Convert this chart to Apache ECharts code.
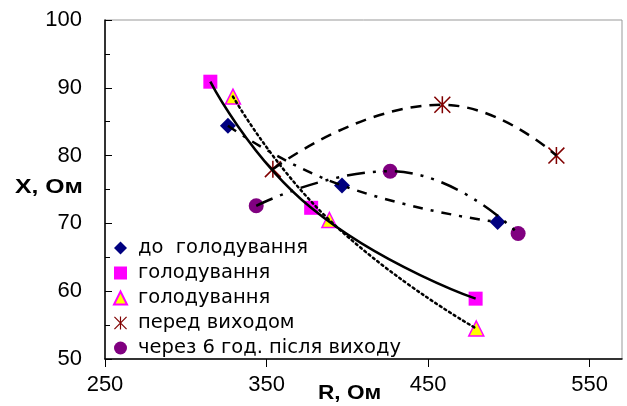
<!DOCTYPE html>
<html><head><meta charset="utf-8">
<script src="https://cdn.jsdelivr.net/npm/echarts@6/dist/echarts.min.js"></script>
<style>html,body{margin:0;padding:0;background:#fff}#c{width:627px;height:406px}</style>
</head><body><div id="c"></div>
<script>
// ---- data ----
const legendLabels = ['до  голодування', 'голодування', 'голодування', 'перед виходом', 'через 6 год. після виходу'];
const xTicks = [250, 350, 450, 550];
const yTicks = [50, 60, 70, 80, 90, 100];

const beforeR = [326.1, 396.7, 493.0];
const beforeX = [84.4, 75.6, 70.2];

const fastR = [315.2, 377.6, 479.4];
const fastX = [90.9, 72.3, 58.9];

const fast2R = [329.2, 388.9, 479.8];
const fast2X = [88.7, 70.5, 54.5];

const preExitR = [353.9, 458.8, 529.4];
const preExitX = [78.0, 87.5, 80.0];

const afterR = [343.6, 426.5, 505.7];
const afterX = [72.6, 77.7, 68.5];

// ---- build ----
const zip = (a, b) => a.map((v, i) => [v, b[i]]);
const keys = ['s0', 's1', 's2', 's3', 's4'];
const labelOf = {}; keys.forEach((k, i) => labelOf[k] = legendLabels[i]);

const star = 'path://M9.1,0H10.9V20H9.1Z M0,1.3L1.3,0L20,18.7L18.7,20Z M18.7,0L20,1.3L1.3,20L0,18.7Z';

const markers = [
  { data: zip(beforeR, beforeX), symbol: 'diamond', size: 16, style: { color: '#000080' } },
  { data: zip(fastR, fastX), symbol: 'rect', size: 14, style: { color: '#FF00FF' } },
  { data: zip(fast2R, fast2X), symbol: 'triangle', size: 15, style: { color: '#FFFF00', borderColor: '#FF00FF', borderWidth: 1.5 } },
  { data: zip(preExitR, preExitX), symbol: star, size: 17, style: { color: '#800000' } },
  { data: zip(afterR, afterX), symbol: 'circle', size: 15, style: { color: '#800080' } }
];
const lineTypes = [
  { type: [10, 8, 3, 8] },
  { type: 'solid' },
  { type: [2, 3.5], cap: 'round' },
  { type: [11, 8] },
  { type: [18, 8, 3, 8, 3, 8] }
];

const series = [];
markers.forEach((m, i) => {
  series.push({
    name: keys[i], type: 'scatter', data: m.data, symbol: m.symbol, symbolSize: m.size,
    itemStyle: Object.assign({ opacity: 1 }, m.style), z: 2, silent: true
  });
});
markers.forEach((m, i) => {
  series.push({
    name: 'line' + i, type: 'line', data: m.data, smooth: true, showSymbol: false, symbol: 'none',
    lineStyle: Object.assign({ color: '#000', width: 2.5 }, lineTypes[i]), z: 3, silent: true
  });
});

const chart = echarts.init(document.getElementById('c'), null, { renderer: 'canvas' });
chart.setOption({
  animation: false,
  backgroundColor: '#fff',
  grid: { left: 105, top: 20, right: 5, bottom: 47, show: true, borderColor: '#999', borderWidth: 1, backgroundColor: 'transparent' },
  xAxis: {
    type: 'value', min: 250, max: 570, interval: 100,
    axisLine: { show: true, onZero: false, lineStyle: { color: '#000', width: 1.5 } },
    axisTick: { show: true, inside: false, length: 8, lineStyle: { color: '#000', width: 1 }, customValues: xTicks },
    axisLabel: { color: '#000', fontFamily: 'Liberation Sans', fontSize: 22, margin: 15, customValues: xTicks },
    splitLine: { show: false }
  },
  yAxis: {
    type: 'value', min: 50, max: 100, interval: 10,
    axisLine: { show: true, onZero: false, lineStyle: { color: '#000', width: 1.5 } },
    axisTick: { show: true, inside: true, length: 7, lineStyle: { color: '#000', width: 1 } },
    minorTick: { show: true, splitNumber: 2, length: 5, lineStyle: { color: '#000', width: 1 } },
    axisLabel: { color: '#000', fontFamily: 'Liberation Sans', fontSize: 22, margin: 23, customValues: yTicks },
    splitLine: { show: false }
  },
  legend: {
    data: keys, orient: 'vertical', left: 113, top: 238,
    itemWidth: 13, itemHeight: 13, itemGap: 5, padding: 0,
    formatter: n => labelOf[n],
    textStyle: { fontFamily: 'DejaVu Sans', fontSize: 19.5, color: '#000', lineHeight: 20, padding: [0, 0, 0, 6] },
    selectedMode: false
  },
  graphic: [
    { type: 'text', x: 15, y: 187, scaleX: 1.24, style: { text: 'X, Ом', font: 'bold 20px "Liberation Sans"', fill: '#000', verticalAlign: 'middle' } },
    { type: 'text', x: 318, y: 393, scaleX: 1.13, style: { text: 'R, Ом', font: 'bold 20px "Liberation Sans"', fill: '#000', verticalAlign: 'middle' } }
  ],
  series: series
});
</script>
</body></html>
